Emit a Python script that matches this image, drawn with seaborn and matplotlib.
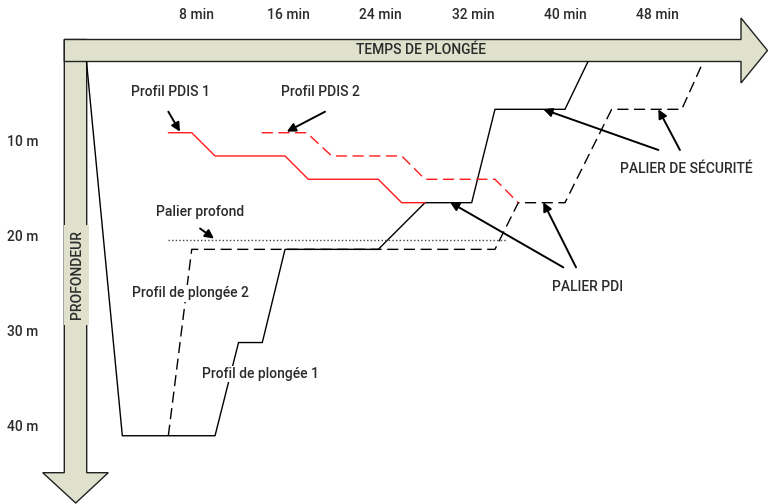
import matplotlib
matplotlib.use("Agg")
import matplotlib.pyplot as plt
import seaborn as sns
from matplotlib import font_manager
from matplotlib.patches import Polygon
from matplotlib.transforms import Affine2D

# dive profiles: time (min) / depth (m)
p1_time = [-1.53, 1.58, 9.62, 11.66, 13.72, 15.69, 23.78, 27.83, 31.88, 33.90, 39.97, 41.97]
p1_depth = [1.47, 40.94, 40.94, 31.11, 31.11, 21.28, 21.28, 16.36, 16.36, 6.51, 6.51, 1.47]

p2_time = [5.57, 7.60, 33.90, 35.92, 39.97, 44.02, 50.10, 51.97]
p2_depth = [40.94, 21.28, 21.28, 16.36, 16.36, 6.51, 6.51, 1.47]

pdis1_time = [5.57, 7.60, 9.62, 15.69, 17.71, 23.78, 25.81, 27.83]
pdis1_depth = [8.98, 8.98, 11.43, 11.43, 13.89, 13.89, 16.36, 16.36]

pdis2_time = [13.67, 17.57, 19.74, 25.81, 27.83, 33.90, 35.92]
pdis2_depth = [8.98, 8.98, 11.43, 11.43, 13.89, 13.89, 16.36]

deep_stop_time = [5.57, 34.92]
deep_stop_depth = [20.26, 20.26]

time_ticks = [8, 16, 24, 32, 40, 48]
depth_ticks = [10, 20, 30, 40]

BAND = "#dfe1cd"
TXT = "#2b2b2b"
RED = "#ff1a1a"

sns.set_theme(style="white")
names = {f.name for f in font_manager.fontManager.ttflist}
narrow = "Liberation Sans Narrow" if "Liberation Sans Narrow" in names else "Roboto"
plt.rcParams["font.family"] = [narrow, "DejaVu Sans"]
FS = 10
W = "medium"

fig = plt.figure(figsize=(7.68, 5.04), dpi=100)
ax = fig.add_axes([0, 0, 1, 1])
ax.set_xlim(-9.03, 57.58)
ax.set_ylim(48.14, -5.02)
ax.axis("off")

# pixel transform for the decorative axis arrows
px = Affine2D().scale(1 / 768, -1 / 504).translate(0, 1) + fig.transFigure

vert = [(64.3, 39.5), (86.7, 39.5), (86.7, 472.7), (108.3, 472.7), (75.7, 503),
        (42.7, 472.7), (64.3, 472.7)]
horiz = [(64.3, 39.5), (741, 39.5), (741, 18), (767.5, 50.5), (741, 83),
         (741, 61.5), (64.3, 61.5)]
ax.add_patch(Polygon(vert, closed=True, facecolor=BAND, edgecolor="#222222", lw=1.0, transform=px, zorder=1))
ax.add_patch(Polygon(horiz, closed=True, facecolor=BAND, edgecolor="#222222", lw=1.0, transform=px, zorder=2))

ax.text(421, 50.5, "TEMPS DE PLONGÉE", transform=px, ha="center", va="center",
        fontsize=FS, fontweight=W, color=TXT, zorder=3)
ax.text(76.5, 275, "PROFONDEUR", transform=px, ha="center", va="center", rotation=90,
        fontsize=FS, fontweight=W, color=TXT, zorder=3,
        bbox=dict(boxstyle="square,pad=0.4", facecolor=BAND, edgecolor="none"))

# profiles
sns.lineplot(x=p1_time, y=p1_depth, sort=False, estimator=None, ax=ax, color="black", lw=1.0, zorder=4)
sns.lineplot(x=p2_time, y=p2_depth, sort=False, estimator=None, ax=ax, color="black", lw=1.0,
             linestyle=(0, (8, 4)), zorder=4)
sns.lineplot(x=pdis1_time, y=pdis1_depth, sort=False, estimator=None, ax=ax, color=RED, lw=1.0, zorder=5)
sns.lineplot(x=pdis2_time, y=pdis2_depth, sort=False, estimator=None, ax=ax, color=RED, lw=1.0,
             linestyle=(0, (8, 4)), zorder=5)
sns.lineplot(x=deep_stop_time, y=deep_stop_depth, sort=False, estimator=None, ax=ax, color="#444444",
             lw=1.0, linestyle=(0, (1, 1.6)), zorder=4)

for t in time_ticks:
    ax.text(t, -3.44, f"{t} min", ha="center", va="center", fontsize=FS, fontweight=W, color=TXT)
for d in depth_ticks:
    ax.text(-7.03, d, f"{d} m", ha="center", va="center", fontsize=FS, fontweight=W, color=TXT)

# labels and pointers
labels = [
    ("Profil PDIS 1", 5.80, 4.65),
    ("Profil PDIS 2", 18.73, 4.65),
    ("Palier profond", 8.29, 17.37),
    ("Profil de plongée 2", 7.45, 25.92),
    ("Profil de plongée 1", 13.58, 34.43),
    ("PALIER PDI", 41.97, 25.22),
    ("PALIER DE SÉCURITÉ", 50.47, 12.84),
]
for s, x, y in labels:
    ax.text(x, y, s, ha="center", va="center", fontsize=FS, fontweight=W, color=TXT,
            zorder=6, bbox=dict(boxstyle="square,pad=0.1", facecolor="white", edgecolor="none"))

pointers = [
    ((5.57, 6.76), (6.58, 8.87)),
    ((19.16, 6.76), (15.84, 8.87)),
    ((8.32, 19.08), (9.53, 20.14)),
    ((39.83, 23.18), (30.0, 16.31)),
    ((40.93, 23.18), (38.09, 16.31)),
    ((48.07, 10.80), (38.09, 6.51)),
    ((49.94, 10.80), (48.07, 6.51)),
]
for tail, head in pointers:
    ax.annotate("", xy=head, xytext=tail, zorder=7,
                arrowprops=dict(arrowstyle="-|>", mutation_scale=13, lw=1.4, color="black",
                                shrinkA=0, shrinkB=0))

fig.savefig("out.png", dpi=100)
